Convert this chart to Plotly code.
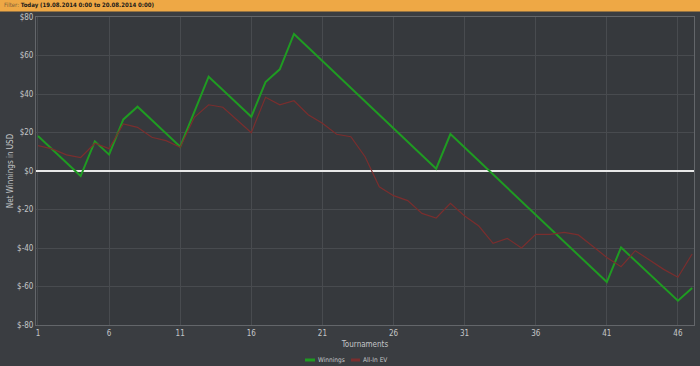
import plotly.graph_objects as go

tournaments = list(range(1, 48))
winnings = [18.2, 11.2, 4.2, -2.6, 15.4, 8.5, 26.8, 33.4, 26.5, 19.6,
            12.6, 30.8, 49.0, 42.1, 35.1, 28.2, 46.2, 52.8, 71.2, 64.2,
            57.2, 50.2, 43.2, 36.2, 29.2, 22.2, 15.2, 8.2, 1.2, 19.2,
            12.2, 5.2, -1.8, -8.8, -15.8, -22.8, -29.8, -36.8, -43.8, -50.8,
            -57.7, -39.7, -46.7, -53.6, -60.5, -67.4, -60.8]
allin_ev = [13.2, 11.5, 8.4, 7.0, 14.4, 11.6, 24.4, 22.7, 17.5, 15.8,
            12.3, 27.9, 34.4, 33.1, 26.5, 19.9, 38.3, 34.4, 36.5, 29.2,
            24.8, 19.1, 17.8, 7.4, -8.2, -12.8, -15.4, -22.0, -24.4, -16.8,
            -23.4, -28.6, -37.6, -35.0, -40.0, -32.9, -32.9, -31.9, -33.2, -39.3,
            -44.9, -49.7, -41.4, -46.2, -51.1, -55.2, -43.1]

series_names = ["Winnings", "All-In EV"]
x_tickvals = [1, 6, 11, 16, 21, 26, 31, 36, 41, 46]
y_tickvals = [-80, -60, -40, -20, 0, 20, 40, 60, 80]
y_ticktext = ["$-80", "$-60", "$-40", "$-20", "$0", "$20", "$40", "$60", "$80"]

FONT = "Liberation Sans Narrow, DejaVu Sans Condensed, Arial Narrow, sans-serif"
TXT = "#c4c6c8"
GREEN = "#1f9b22"
RED = "#7a2e2e"

PW, PH, L, T = 658, 308, 36, 17


def px(x):
    return (x - L) / PW


def py(y):
    return (PH + T - y) / PH


fig = go.Figure()
fig.add_trace(go.Scatter(x=tournaments, y=winnings, mode="lines", name=series_names[0],
                         line=dict(color=GREEN, width=2)))
fig.add_trace(go.Scatter(x=tournaments, y=allin_ev, mode="lines", name=series_names[1],
                         line=dict(color=RED, width=1.2)))

shapes = [
    dict(type="rect", xref="paper", yref="paper", x0=px(-5), x1=px(705),
         y0=py(11.5), y1=py(-1), fillcolor="#eea845", line=dict(width=0), layer="above"),
    dict(type="line", xref="paper", yref="paper", x0=px(305), x1=px(315),
         y0=py(360), y1=py(360), line=dict(color=GREEN, width=3)),
    dict(type="line", xref="paper", yref="paper", x0=px(351), x1=px(360),
         y0=py(360), y1=py(360), line=dict(color=RED, width=3)),
]
annotations = [
    dict(xref="paper", yref="paper", x=px(2), y=py(5.5),
         xanchor="left", yanchor="middle", showarrow=False,
         text='<span style="color:#7d6238">Filter:</span> <b>Today (19.08.2014 0:00 to 20.08.2014 0:00)</b>',
         font=dict(size=6, color="#1a1a1a", family=FONT)),
    dict(xref="paper", yref="paper", x=px(316), y=py(360), xanchor="left", yanchor="middle",
         showarrow=False, text=series_names[0], font=dict(size=6.5, color=TXT)),
    dict(xref="paper", yref="paper", x=px(361), y=py(360), xanchor="left", yanchor="middle",
         showarrow=False, text=series_names[1], font=dict(size=6.5, color=TXT)),
]

fig.update_layout(
    width=700, height=366,
    margin=dict(l=36, r=6, t=17, b=41, autoexpand=False),
    paper_bgcolor="#3a3d41",
    plot_bgcolor="#36393d",
    font=dict(family=FONT, size=8, color=TXT),
    showlegend=False,
    xaxis=dict(range=[0.86, 47.13], tickvals=x_tickvals, showgrid=True, automargin=False,
               gridcolor="#484b4f", gridwidth=1, zeroline=False,
               showline=True, linecolor="#63666a", linewidth=1, mirror=True,
               ticks="", tickfont=dict(size=8, color=TXT),
               title=dict(text="Tournaments", font=dict(size=8, color=TXT), standoff=4)),
    yaxis=dict(range=[-80, 80], tickvals=y_tickvals, ticktext=y_ticktext, showgrid=True,
               automargin=False, gridcolor="#484b4f", gridwidth=1,
               zeroline=True, zerolinecolor="#e8e8e8", zerolinewidth=2,
               showline=True, linecolor="#63666a", linewidth=1, mirror=True,
               ticks="", tickfont=dict(size=8, color=TXT),
               title=dict(text="Net Winnings in USD", font=dict(size=8, color=TXT), standoff=2)),
    shapes=shapes,
    annotations=annotations,
)

fig.write_html("out.html", config={"displayModeBar": False},
               post_script="document.body.style.margin='0px';document.body.style.background='#3a3d41';")
